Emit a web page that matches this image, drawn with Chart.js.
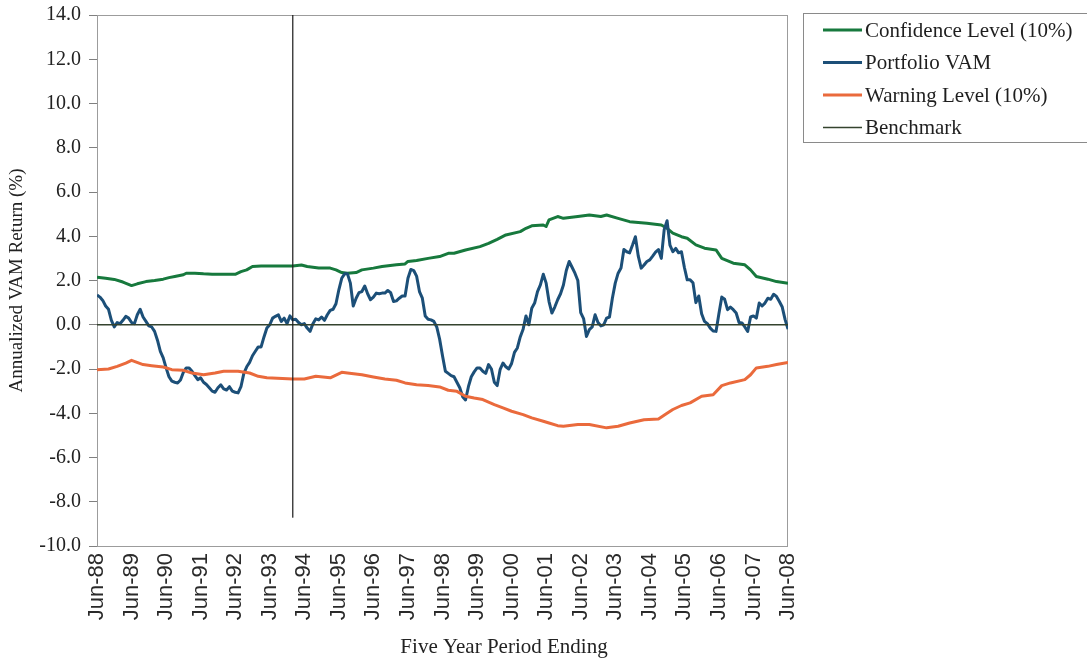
<!DOCTYPE html>
<html>
<head>
<meta charset="utf-8">
<script src="https://cdn.jsdelivr.net/npm/chart.js@4.4.1/dist/chart.umd.min.js"></script>
<style>
  html, body { margin: 0; padding: 0; background: #fff; }
</style>
</head>
<body>
<canvas id="myChart" width="1087" height="660"></canvas>
<script>
// x axis: months since Jun-88, labelled every June
const tickLabels = ['Jun-88', 'Jun-89', 'Jun-90', 'Jun-91', 'Jun-92', 'Jun-93', 'Jun-94',
  'Jun-95', 'Jun-96', 'Jun-97', 'Jun-98', 'Jun-99', 'Jun-00', 'Jun-01', 'Jun-02',
  'Jun-03', 'Jun-04', 'Jun-05', 'Jun-06', 'Jun-07', 'Jun-08'];

// portfolio VAM, one value per month (Jun-88 .. Jun-08)
const portfolioVam = [
  1.35, 1.25, 1.1, 0.85, 0.7, 0.2, -0.1, 0.1, 0.05, 0.2,
  0.38, 0.3, 0.1, 0.05, 0.45, 0.7, 0.35, 0.15, -0.05, -0.1,
  -0.3, -0.7, -1.2, -1.5, -1.95, -2.35, -2.55, -2.6, -2.63, -2.5,
  -2.15, -1.95, -1.95, -2.1, -2.3, -2.48, -2.4, -2.6, -2.7, -2.85,
  -3.0,
  -3.05, -2.85, -2.72, -2.9, -2.95, -2.8, -3.0, -3.05, -3.08, -2.8,
  -2.2, -1.9, -1.7, -1.4, -1.2, -1.0, -1.0, -0.55, -0.15, 0.0,
  0.3, 0.38, 0.45, 0.15, 0.3, 0.05, 0.4, 0.22, 0.25, 0.1,
  0.0, 0.05, -0.15, -0.3, 0.05, 0.27, 0.22, 0.35, 0.2, 0.45,
  0.65,
  0.7, 0.95, 1.58, 2.1, 2.3, 2.3, 1.88, 0.85, 1.2, 1.45,
  1.5, 1.75, 1.4, 1.13, 1.25, 1.43, 1.4, 1.43, 1.43, 1.55,
  1.45, 1.05, 1.08, 1.2, 1.3, 1.3, 2.1, 2.5, 2.45, 2.2,
  1.5, 1.2, 0.4, 0.25, 0.22, 0.15, -0.1, -0.65, -1.4, -2.1,
  -2.2, -2.3, -2.35, -2.6, -2.85, -3.25, -3.4, -2.8, -2.35, -2.13,
  -1.95, -1.95, -2.1, -2.2, -1.8, -2.0, -2.6, -2.75, -2.03, -1.73,
  -1.9, -2.0, -1.75, -1.25, -1.05, -0.55, -0.2, 0.4, 0.0, 0.75,
  0.98, 1.5, 1.8, 2.28, 1.88, 1.05, 0.53, 0.8, 1.13, 1.4,
  1.8,
  2.45, 2.86, 2.6, 2.33, 2.0, 0.55, 0.28, -0.53, -0.22, -0.1,
  0.45, 0.1, -0.05, 0.0, 0.3, 0.35, 1.2, 1.88, 2.33, 2.56,
  3.4, 3.3, 3.25, 3.6, 3.98, 3.1, 2.56, 2.7, 2.86, 2.93,
  3.1, 3.28, 3.4, 3.0, 4.3, 4.7, 3.6, 3.3, 3.45, 3.25,
  3.3,
  2.6, 2.03, 2.03, 1.9, 1.0, 1.3, 0.5, 0.15, 0.05, -0.15,
  -0.28, -0.3, 0.5, 1.25, 1.15, 0.68, 0.8, 0.68, 0.53, 0.1,
  0.08, -0.1, -0.3, 0.35, 0.4, 0.3, 0.98, 0.85, 0.98, 1.2,
  1.15, 1.38, 1.28, 1.05, 0.8, 0.23, -0.2
];

// confidence level (10%) read at these months
const confMonths = [0, 3, 6, 9, 12, 14, 17, 20, 23, 25, 27, 30, 31, 34, 37, 40, 44, 48, 50, 52,
  54, 57, 63, 68, 71, 73, 77, 81, 83, 85, 87, 90, 92, 96, 99, 104, 107, 108, 111, 115,
  119, 122, 124, 128, 133, 136, 139, 142, 147, 149, 151, 155, 156, 157, 160, 162, 167, 171, 175, 177,
  181, 185, 191, 196, 198, 200, 203, 205, 208, 211, 215, 217, 221, 225, 227, 229, 233, 236, 240];
const confValues = [2.15, 2.1, 2.05, 1.93, 1.77, 1.85, 1.95, 2.0, 2.06, 2.13, 2.18, 2.26, 2.33, 2.33, 2.3, 2.28, 2.28, 2.28, 2.4, 2.48,
  2.63, 2.66, 2.66, 2.66, 2.7, 2.63, 2.56, 2.56, 2.48, 2.36, 2.33, 2.36, 2.48, 2.56, 2.63, 2.71, 2.75, 2.86, 2.9, 3.0,
  3.08, 3.23, 3.23, 3.38, 3.53, 3.68, 3.86, 4.06, 4.21, 4.36, 4.47, 4.51, 4.44, 4.74, 4.89, 4.81, 4.89, 4.96, 4.89, 4.96,
  4.81, 4.66, 4.59, 4.51, 4.36, 4.14, 3.98, 3.91, 3.61, 3.46, 3.38, 3.0, 2.78, 2.71, 2.48, 2.18, 2.06, 1.95, 1.88];

// warning level (10%) read at these months
const warnMonths = [0, 4, 7, 10, 12, 16, 19, 23, 26, 30, 33, 37, 41, 44, 49, 53, 56, 59, 68, 72,
  76, 81, 85, 87, 92, 96, 100, 104, 107, 111, 115, 119, 122, 125, 128, 131, 134, 138, 141, 144,
  148, 151, 155, 157, 160, 162, 167, 171, 177, 181, 185, 190, 195, 198, 200, 203, 206, 210, 214, 217,
  220, 225, 227, 229, 233, 236, 240];
const warnValues = [-2.03, -2.0, -1.88, -1.73, -1.61, -1.8, -1.85, -1.91, -2.03, -2.06, -2.18, -2.26, -2.18, -2.1, -2.1, -2.18, -2.33, -2.4, -2.45, -2.45,
  -2.33, -2.4, -2.15, -2.18, -2.26, -2.36, -2.45, -2.51, -2.63, -2.71, -2.75, -2.81, -2.96, -3.01, -3.23, -3.31, -3.38, -3.61, -3.76, -3.91,
  -4.06, -4.21, -4.36, -4.44, -4.56, -4.59, -4.51, -4.51, -4.66, -4.59, -4.44, -4.29, -4.26, -4.0, -3.83, -3.65, -3.53, -3.23, -3.16, -2.75,
  -2.63, -2.48, -2.26, -1.95, -1.88, -1.8, -1.7];

// benchmark (zero line) and the vertical marker
const benchMonths = [0, 240];
const benchValues = [0, 0];
const markerMonths = [68, 68];
const markerValues = [14, -8.7];

const xTitle = 'Five Year Period Ending';

const pts = (xs, ys) => ys.map((y, i) => ({ x: xs[i], y }));

// frame round the plot area
const plotFrame = {
  id: 'plotFrame',
  beforeDatasetsDraw(chart) {
    const { ctx, chartArea: a } = chart;
    ctx.save();
    ctx.strokeStyle = '#9c9c9c';
    ctx.lineWidth = 1;
    ctx.strokeRect(Math.round(a.left) + 0.5, Math.round(a.top) + 0.5,
      Math.round(a.width) - 1, Math.round(a.height));
    ctx.restore();
  }
};

// boxed legend at the top right + x title (sits right of centre in the original)
const boxLegend = {
  id: 'boxLegend',
  afterDraw(chart) {
    const ctx = chart.ctx;
    const items = chart.data.datasets.filter(d => !d.noLegend);
    ctx.save();
    ctx.strokeStyle = '#8a8a8a';
    ctx.lineWidth = 1;
    ctx.strokeRect(803.5, 13.5, 300, 129);
    ctx.font = '21px "Liberation Serif"';
    ctx.textBaseline = 'middle';
    ctx.fillStyle = '#1e1e1e';
    items.forEach((d, i) => {
      const y = 30 + i * 32.5;
      ctx.strokeStyle = d.borderColor;
      ctx.lineWidth = d.borderWidth;
      ctx.beginPath();
      ctx.moveTo(823, y);
      ctx.lineTo(862, y);
      ctx.stroke();
      ctx.fillText(d.label, 865, y + 1);
    });
    ctx.textAlign = 'center';
    ctx.fillStyle = '#222';
    ctx.fillText(xTitle, 504, 647);
    ctx.restore();
  }
};

const ctx = document.getElementById('myChart').getContext('2d');
const myChart = new Chart(ctx, {
  type: 'line',
  data: {
    datasets: [{
      label: 'Confidence Level (10%)',
      data: pts(confMonths, confValues),
      borderColor: '#17793d',
      borderWidth: 3,
      order: 4
    }, {
      label: 'Portfolio VAM',
      data: portfolioVam.map((y, i) => ({ x: i, y })),
      borderColor: '#1c4f78',
      borderWidth: 3,
      order: 3
    }, {
      label: 'Warning Level (10%)',
      data: pts(warnMonths, warnValues),
      borderColor: '#ea6a3c',
      borderWidth: 3,
      order: 2
    }, {
      label: 'Benchmark',
      data: pts(benchMonths, benchValues),
      borderColor: '#34432e',
      borderWidth: 1.5,
      order: 1
    }, {
      label: 'marker',
      noLegend: true,
      data: pts(markerMonths, markerValues),
      borderColor: '#1a1a1a',
      borderWidth: 1.2,
      order: 0
    }]
  },
  options: {
    responsive: false,
    animation: false,
    events: [],
    elements: {
      point: { radius: 0 },
      line: { tension: 0, borderJoinStyle: 'round', fill: false }
    },
    layout: { padding: { left: 0, top: 15, right: 299, bottom: 0 } },
    plugins: {
      legend: { display: false },
      tooltip: { enabled: false }
    },
    scales: {
      x: {
        type: 'linear',
        min: 0,
        max: 240,
        afterBuildTicks: (s) => { s.ticks = tickLabels.map((_, i) => ({ value: i * 12 })); },
        afterFit: (s) => { s.height = 114; },
        grid: { display: false, drawTicks: false },
        border: { display: false },
        ticks: {
          autoSkip: false,
          minRotation: 90,
          maxRotation: 90,
          padding: 7,
          color: '#2a2a2a',
          font: { family: 'Liberation Sans', size: 22 },
          callback: (v) => tickLabels[Math.round(v / 12)]
        },
        title: { display: false }
      },
      y: {
        min: -10,
        max: 14,
        afterFit: (s) => { s.width = 97; s.paddingTop = 0; },
        grid: { drawOnChartArea: false, drawTicks: true, tickLength: 8, color: '#808080' },
        border: { display: true, color: '#6a6a6a' },
        ticks: {
          stepSize: 2,
          padding: 8,
          color: '#222',
          font: { family: 'Liberation Serif', size: 20 },
          callback: (v) => v.toFixed(1)
        },
        title: {
          display: true,
          text: 'Annualized VAM Return (%)',
          color: '#222',
          font: { family: 'Liberation Serif', size: 19 },
          padding: { top: 6, bottom: 0 }
        }
      }
    }
  },
  plugins: [plotFrame, boxLegend]
});
</script>
</body>
</html>
